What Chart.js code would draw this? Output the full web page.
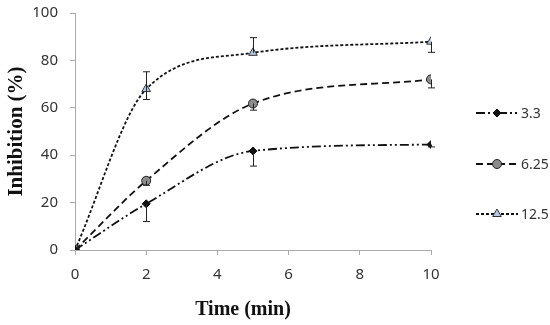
<!DOCTYPE html>
<html>
<head>
<meta charset="utf-8">
<script src="https://cdn.jsdelivr.net/npm/chart.js@4"></script>
<style>
  body { margin: 0; background: #fff; }
  #wrap { width: 550px; height: 325px; }
</style>
</head>
<body>
<div id="wrap"><canvas id="c"></canvas></div>
<script>
// data
const times = [0, 2, 5, 10];
const seriesNames = ["3.3", "6.25", "12.5"];
const inh33 = [0, 19.5, 41.8, 44.5];
const inh625 = [0, 29.2, 61.8, 72];
const inh125 = [0, 67.9, 83.2, 87.9];
// error bar ends (low / high)
const low33 = [0, 12, 35.4, 43.5];
const high33 = [0, 19.5, 41.8, 44.5];
const low625 = [0, 27.3, 59, 68.4];
const high625 = [0, 29.2, 61.8, 72];
const low125 = [0, 63.5, 83.2, 83.4];
const high125 = [0, 75.2, 89.6, 87.9];
const xTicks = [0, 2, 4, 6, 8, 10];
const yTicks = [0, 20, 40, 60, 80, 100];
const xTitle = "Time (min)";

const styles = [
  { dash: [9, 3, 2, 3, 2, 3], point: "rectRot", r: 4, fill: "#111", stroke: "#111" },
  { dash: [7, 4], point: "circle", r: 4.5, fill: "#8c8c8c", stroke: "#222" },
  { dash: [3, 2], point: "triangle", r: 5, fill: "#b3cbe8", stroke: "#333" }
];
const values = [inh33, inh625, inh125];
const lows = [low33, low625, low125];
const highs = [high33, high625, high125];

const datasets = seriesNames.map((name, i) => ({
  label: name,
  data: times.map((t, j) => ({ x: t, y: values[i][j] })),
  borderColor: "#111",
  borderWidth: 1.8,
  borderDash: styles[i].dash,
  cubicInterpolationMode: "monotone",
  pointStyle: styles[i].point,
  pointRadius: styles[i].r,
  pointBackgroundColor: styles[i].fill,
  pointBorderColor: styles[i].stroke,
  pointBorderWidth: 1,
  fill: false
}));

// error bars
const errorBars = {
  id: "errorBars",
  afterDatasetsDraw(chart) {
    const ctx = chart.ctx;
    const xs = chart.scales.x, ys = chart.scales.y;
    ctx.save();
    ctx.strokeStyle = "#222";
    ctx.lineWidth = 1;
    ctx.setLineDash([]);
    lows.forEach((lo, i) => {
      times.forEach((t, j) => {
        if (lo[j] === highs[i][j]) return;
        const px = Math.round(xs.getPixelForValue(t)) + 0.5;
        const y1 = ys.getPixelForValue(lo[j]);
        const y2 = ys.getPixelForValue(highs[i][j]);
        ctx.beginPath();
        ctx.moveTo(px, y1); ctx.lineTo(px, y2);
        if (lo[j] !== values[i][j]) { ctx.moveTo(px - 3.5, y1); ctx.lineTo(px + 3.5, y1); }
        if (highs[i][j] !== values[i][j]) { ctx.moveTo(px - 3.5, y2); ctx.lineTo(px + 3.5, y2); }
        ctx.stroke();
      });
    });
    ctx.restore();
  }
};

// legend on the right + x title (sits a bit left of centre in the original)
const sideLegend = {
  id: "sideLegend",
  afterDraw(chart) {
    const ctx = chart.ctx;
    const rows = [113, 164, 214];
    ctx.save();
    seriesNames.forEach((name, i) => {
      const y = rows[i];
      ctx.strokeStyle = "#111";
      ctx.lineWidth = 1.8;
      ctx.setLineDash(styles[i].dash);
      ctx.beginPath();
      ctx.moveTo(476, y); ctx.lineTo(518, y);
      ctx.stroke();
      ctx.setLineDash([]);
      ctx.fillStyle = styles[i].fill;
      ctx.strokeStyle = styles[i].stroke;
      ctx.lineWidth = 1;
      Chart.helpers.drawPoint(ctx, { pointStyle: styles[i].point, radius: styles[i].r, borderWidth: 1 }, 497, y);
      ctx.fillStyle = "#333";
      ctx.font = "14px 'Noto Sans'";
      ctx.textBaseline = "middle";
      ctx.fillText(name, 521, y + 1);
    });
    ctx.fillStyle = "#111";
    ctx.font = "bold 20px 'Liberation Serif'";
    ctx.textAlign = "center";
    ctx.textBaseline = "middle";
    ctx.fillText(xTitle, 243, 310);
    ctx.restore();
  }
};

new Chart(document.getElementById("c"), {
  type: "line",
  data: { datasets: datasets },
  options: {
    responsive: true,
    maintainAspectRatio: false,
    animation: false,
    layout: { padding: { top: 13, right: 119, left: 0, bottom: 0 } },
    plugins: { legend: { display: false }, tooltip: { enabled: false } },
    scales: {
      x: {
        type: "linear",
        min: 0, max: 10,
        afterBuildTicks: s => { s.ticks = xTicks.map(v => ({ value: v })); },
        afterFit: s => { s.height = 75; s.paddingLeft = 0; s.paddingRight = 0; },
        grid: { drawOnChartArea: false, drawTicks: true, tickLength: 5, color: "#aaa" },
        border: { color: "#aaa", width: 1 },
        ticks: { color: "#333", font: { family: "'Noto Sans'", size: 15 }, padding: 11, maxRotation: 0 }
      },
      y: {
        min: 0, max: 100,
        afterBuildTicks: s => { s.ticks = yTicks.map(v => ({ value: v })); },
        afterFit: s => { s.width = 75; s.paddingTop = 0; s.paddingBottom = 0; },
        grid: { drawOnChartArea: false, drawTicks: true, tickLength: 5, color: "#aaa" },
        border: { color: "#aaa", width: 1 },
        ticks: { color: "#333", font: { family: "'Noto Sans'", size: 15 }, padding: 12 },
        title: { display: true, text: "Inhibition (%)", color: "#111", padding: { top: 4, bottom: 0 },
          font: { family: "'Liberation Serif'", size: 21, weight: "bold" } }
      }
    }
  },
  plugins: [errorBars, sideLegend]
});
</script>
</body>
</html>
